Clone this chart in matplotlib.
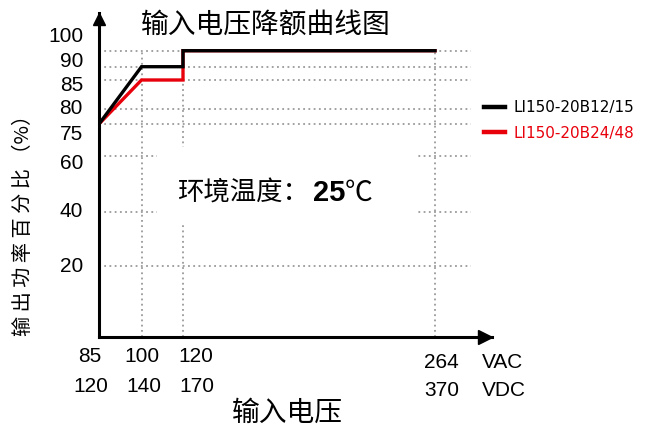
import numpy as np
import matplotlib
matplotlib.use("Agg")
import matplotlib.pyplot as plt
from matplotlib.transforms import ScaledTranslation, blended_transform_factory
from matplotlib.patches import Rectangle

# ---------------- data ----------------
voltage_ac = [85, 100, 120, 120, 264]
load_b12 = [75, 90, 90, 100, 100]
load_b24 = [75, 85, 85, 100, 100]
series_labels = ["LI150-20B12/15", "LI150-20B24/48"]
series_colors = ["black", "#e8000b"]

yticks = [20, 40, 60, 75, 80, 85, 90, 100]
ytick_labels = ["20", "40", "60", "75", "80", "85", "90", "100"]
xticks_ac = [85, 100, 120, 264]
xtick_labels_ac = ["85", "100", "120", "264"]
xtick_labels_dc = ["120", "140", "170", "370"]

title = "输入电压降额曲线图"
xlabel = "输入电压"
ylabel = "输 出 功 率 百 分 比 （%）"
note_cn = "环境温度："
note_num = "25"
note_unit = "℃"

# ---------------- layout (pixel based) ----------------
W, H = 651, 430
CJK = ["Noto Sans CJK SC", "DejaVu Sans"]
NUM = ["Liberation Sans", "DejaVu Sans"]

# non-linear axis mapping: value -> pixels from axis origin
XMAP_V = [85, 100, 120, 264, 296]
XMAP_P = [0, 42.5, 84, 336, 393]
YMAP_V = [0, 20, 40, 60, 75, 80, 85, 90, 100, 120]
YMAP_P = [0, 71, 125.3, 181, 213, 228, 257, 270.3, 286.3, 324]
GRID_X_END = 284

fig = plt.figure(figsize=(W / 100, H / 100), dpi=100)
ax = fig.add_axes([99 / W, (H - 337) / H, (492 - 99) / W, (337 - 13) / H])

ax.set_xscale("function", functions=(lambda v: np.interp(v, XMAP_V, XMAP_P),
                                     lambda p: np.interp(p, XMAP_P, XMAP_V)))
ax.set_yscale("function", functions=(lambda v: np.interp(v, YMAP_V, YMAP_P),
                                     lambda p: np.interp(p, YMAP_P, YMAP_V)))
ax.set_xlim(XMAP_V[0], XMAP_V[-1])
ax.set_ylim(YMAP_V[0], YMAP_V[-1])
ax.set_xticks([])
ax.set_yticks([])
for s in ["top", "right"]:
    ax.spines[s].set_visible(False)
for s in ["left", "bottom"]:
    ax.spines[s].set_linewidth(2.2)
    ax.spines[s].set_color("black")
    ax.spines[s].set_zorder(6)


def off(dx, dy):
    return ScaledTranslation(dx / 100, dy / 100, fig.dpi_scale_trans)


# arrow heads
ax.plot([1], [0], marker=">", ms=10, color="black", transform=ax.transAxes + off(-7, 0),
        clip_on=False, zorder=7)
ax.plot([0], [1], marker="^", ms=9, color="black", transform=ax.transAxes + off(0, -6),
        clip_on=False, zorder=7)

# dotted grid
grid_kw = dict(colors="#9a9a9a", linewidth=1.3, linestyles=(0, (1, 1.9)), zorder=1)
ax.hlines(yticks, XMAP_V[0], GRID_X_END, **grid_kw)
ax.vlines(xticks_ac[1:], 0, 100, **grid_kw)

# white box behind the note
ax.add_patch(Rectangle((157 / W, 1 - 222 / H), (418 - 157) / W, (222 - 147) / H,
                       transform=fig.transFigure, facecolor="white", edgecolor="none",
                       zorder=2, clip_on=False))

# curves
l24, = ax.plot(voltage_ac, load_b24, color=series_colors[1], lw=2.4, zorder=3,
               solid_joinstyle="miter", label=series_labels[1])
l12, = ax.plot(voltage_ac, load_b12, color=series_colors[0], lw=2.4, zorder=4,
               solid_joinstyle="miter", label=series_labels[0])

leg = ax.legend(handles=[l12, l24], labels=series_labels, loc="upper left",
                bbox_to_anchor=(484 / W, 1 - 100 / H), bbox_transform=fig.transFigure,
                frameon=False, borderpad=0, borderaxespad=0, handlelength=1.35,
                handletextpad=0.6, labelspacing=0.7,
                prop={"family": ["DejaVu Sans"], "size": 11},
                labelcolor=series_colors)
for h in leg.legend_handles:
    h.set_linewidth(3.2)

# y tick labels
YLAB_DY = [-0.5, 0, -7.5, -10.5, 1, -5, 5, 14.7]
ytrans = blended_transform_factory(ax.transAxes, ax.transData)
for v, lab, dy in zip(yticks, ytick_labels, YLAB_DY):
    ax.text(0, v, lab, transform=ytrans + off(-16, dy), ha="right", va="center",
            fontsize=15, family=NUM, clip_on=False)

# x tick labels (two rows)
XLAB_DX1 = [-9, 0.5, 13, 6]
XLAB_Y1 = [356, 356, 356, 363]
XLAB_DX2 = [-8, 2.5, 14, 6.5]
XLAB_Y2 = [386, 386, 386, 390]
xtrans = blended_transform_factory(ax.transData, ax.transAxes)
for v, lab, dx, py in zip(xticks_ac, xtick_labels_ac, XLAB_DX1, XLAB_Y1):
    ax.text(v, 0, lab, transform=xtrans + off(dx, -(py - 337)), ha="center", va="center",
            fontsize=15, family=NUM, clip_on=False)
for v, lab, dx, py in zip(xticks_ac, xtick_labels_dc, XLAB_DX2, XLAB_Y2):
    ax.text(v, 0, lab, transform=xtrans + off(dx, -(py - 337)), ha="center", va="center",
            fontsize=15, family=NUM, clip_on=False)

fig.text(482 / W, 1 - 363 / H, "VAC", ha="left", va="center", fontsize=15,
         family=["Liberation Sans Narrow", "Liberation Sans"])
fig.text(482 / W, 1 - 390 / H, "VDC", ha="left", va="center", fontsize=15,
         family=["Liberation Sans Narrow", "Liberation Sans"])

# titles
fig.text(265.5 / W, 1 - 25 / H, title, ha="center", va="center", fontsize=20, family=CJK)
fig.text(287 / W, 1 - 413 / H, xlabel, ha="center", va="center", fontsize=20, family=CJK)
fig.text(24 / W, 1 - 220 / H, ylabel, ha="center", va="center", fontsize=14.5,
         rotation=90, family=CJK)

# note
fig.text(177 / W, 1 - 193 / H, note_cn, ha="left", va="center", fontsize=19, family=CJK,
         zorder=5)
fig.text(313 / W, 1 - 193 / H, note_num, ha="left", va="center", fontsize=21,
         family=NUM, weight="bold", zorder=5)
fig.text(345 / W, 1 - 193 / H, note_unit, ha="left", va="center", fontsize=20, family=CJK,
         zorder=5)

fig.savefig("out.png", dpi=100)
